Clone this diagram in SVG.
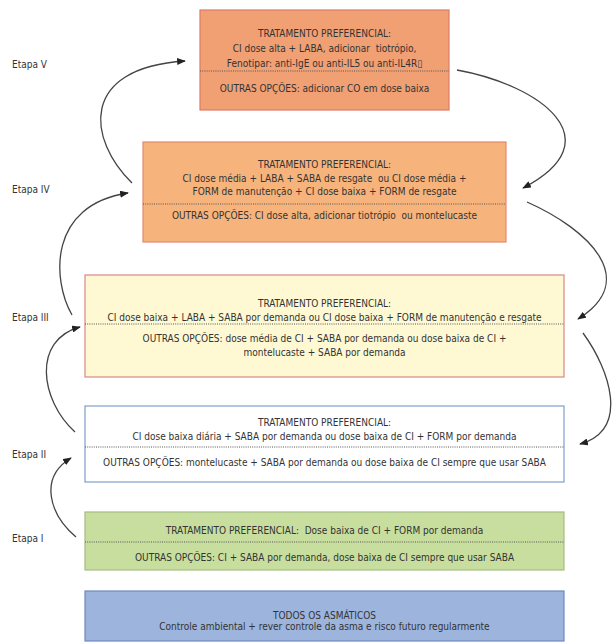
<svg xmlns="http://www.w3.org/2000/svg" width="612" height="643" viewBox="0 0 612 643">
<defs>
<marker id="ah" viewBox="0 0 10 8" refX="9" refY="4" markerWidth="9" markerHeight="7" markerUnits="userSpaceOnUse" orient="auto">
<path d="M0,0 L10,4 L0,8 Z" fill="#222"/>
</marker>
</defs>
<style>
text{font-family:"DejaVu Sans Condensed","DejaVu Sans","Liberation Sans",sans-serif;font-stretch:condensed;font-size:10px;fill:#333;text-anchor:middle}
.lbl{text-anchor:start}
.box{stroke-width:1.2}
.sep{stroke:#555;stroke-width:1;stroke-dasharray:1,1.2;fill:none}
.arr{fill:none;stroke:#444;stroke-width:1.3;marker-end:url(#ah)}
</style>
<rect width="612" height="643" fill="#fff"/>

<g id="etapas">
<text class="lbl" x="12" y="68">Etapa V</text>
<text class="lbl" x="12" y="193">Etapa IV</text>
<text class="lbl" x="12" y="321">Etapa III</text>
<text class="lbl" x="12" y="458">Etapa II</text>
<text class="lbl" x="12" y="542">Etapa I</text>
</g>

<g id="etapa5">
<rect class="box" x="200" y="10" width="249" height="100" fill="#F0A073" stroke="#DF7A66"/>
<text x="324.5" y="36.5">TRATAMENTO PREFERENCIAL:</text>
<text x="324.5" y="51.5" style="white-space:pre">CI dose alta + LABA, adicionar  tiotrópio,</text>
<text x="324.5" y="66.5">Fenotipar: anti-IgE ou anti-IL5 ou anti-IL4R▯</text>
<line class="sep" x1="200" y1="71" x2="449" y2="71"/>
<text x="324.5" y="91.5">OUTRAS OPÇÕES: adicionar CO em dose baixa</text>
</g>

<g id="etapa4">
<rect class="box" x="143" y="142" width="363" height="100" fill="#F6B47C" stroke="#E5896F"/>
<text x="324.5" y="167.5">TRATAMENTO PREFERENCIAL:</text>
<text x="324.5" y="181.5" style="white-space:pre">CI dose média + LABA + SABA de resgate  ou CI dose média +</text>
<text x="324.5" y="194.5">FORM de manutenção + CI dose baixa + FORM de resgate</text>
<line class="sep" x1="143" y1="204" x2="506" y2="204"/>
<text x="324.5" y="219" style="white-space:pre">OUTRAS OPÇÕES: CI dose alta, adicionar tiotrópio  ou montelucaste</text>
</g>

<g id="etapa3">
<rect class="box" x="85" y="275" width="479" height="102" fill="#FEF9D3" stroke="#D98787"/>
<text x="324.5" y="306.5">TRATAMENTO PREFERENCIAL:</text>
<text x="324.5" y="320.5">CI dose baixa + LABA + SABA por demanda ou CI dose baixa + FORM de manutenção e resgate</text>
<line class="sep" x1="85" y1="324" x2="564" y2="324"/>
<text x="324.5" y="341.5">OUTRAS OPÇÕES: dose média de CI + SABA por demanda ou dose baixa de CI +</text>
<text x="324.5" y="355.5">montelucaste + SABA por demanda</text>
</g>

<g id="etapa2">
<rect class="box" x="85" y="406" width="479" height="76" fill="#FFFFFF" stroke="#7F9FCC"/>
<text x="324.5" y="425.5">TRATAMENTO PREFERENCIAL:</text>
<text x="324.5" y="439.5">CI dose baixa diária + SABA por demanda ou dose baixa de CI + FORM por demanda</text>
<line class="sep" x1="85" y1="447" x2="564" y2="447"/>
<text x="324.5" y="465.5">OUTRAS OPÇÕES: montelucaste + SABA por demanda ou dose baixa de CI sempre que usar SABA</text>
</g>

<g id="etapa1">
<rect class="box" x="85" y="512" width="479" height="58" fill="#C8DE9E" stroke="#A3BD84"/>
<text x="324.5" y="533.5" style="white-space:pre">TRATAMENTO PREFERENCIAL:  Dose baixa de CI + FORM por demanda</text>
<line class="sep" x1="85" y1="542" x2="564" y2="542"/>
<text x="324.5" y="560.5">OUTRAS OPÇÕES: CI + SABA por demanda, dose baixa de CI sempre que usar SABA</text>
</g>

<g id="todos">
<rect class="box" x="85" y="591" width="479" height="50" fill="#9DB4DD" stroke="#7189BC"/>
<text x="324.5" y="618.5">TODOS OS ASMÁTICOS</text>
<text x="324.5" y="630">Controle ambiental + rever controle da asma e risco futuro regularmente</text>
</g>

<g id="connectors">
<path class="arr" d="M76,537 C50,515 38,478 71,458"/>
<path class="arr" d="M75,432 C40,400 32,340 80,327"/>
<path class="arr" d="M72,315 C52,280 48,205 128,193"/>
<path class="arr" d="M132,183 C88,140 78,68 185,61"/>
<path class="arr" d="M457,70 C540,85 615,140 523,188"/>
<path class="arr" d="M527,202 C590,230 640,280 578,319"/>
<path class="arr" d="M583,333 C610,370 630,430 580,444"/>
</g>
</svg>
